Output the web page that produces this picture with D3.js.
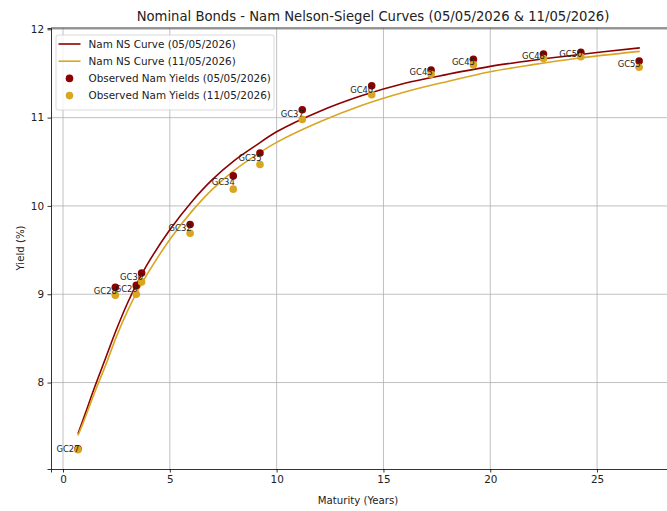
<!DOCTYPE html>
<html>
<head>
<meta charset="utf-8">
<script src="https://cdn.jsdelivr.net/npm/d3@7"></script>
<style>
  body { margin: 0; background: #fff; }
  text { font-family: "DejaVu Sans", sans-serif; fill: #222; }
</style>
</head>
<body>
<div id="chart1"></div>
<script>
// observed bond yields
var bonds = ["GC27","GC28","GC29","GC30","GC32","GC34","GC35","GC37","GC40","GC43","GC45","GC48","GC50","GC53"];
var maturities = [0.70,2.45,3.43,3.68,5.95,7.97,9.22,11.20,14.45,17.23,19.21,22.49,24.24,26.97];
var yields0505 = [7.25,9.08,9.10,9.24,9.79,10.34,10.60,11.09,11.36,11.54,11.66,11.72,11.74,11.64];
var yields1105 = [7.24,8.99,9.00,9.14,9.69,10.19,10.47,10.98,11.26,11.49,11.60,11.67,11.69,11.57];

// fitted NS curves
var curveMaturities = [0.7,1,1.5,2,2.5,3,3.5,4,5,6,7,8,9,10,12,14,16,18,20,22,24,27];
var curve0505 = [7.42,7.62,7.96,8.28,8.60,8.89,9.14,9.36,9.73,10.04,10.30,10.51,10.68,10.84,11.07,11.25,11.39,11.49,11.58,11.65,11.71,11.79];
var curve1105 = [7.40,7.58,7.90,8.20,8.52,8.80,9.04,9.25,9.62,9.93,10.19,10.40,10.57,10.72,10.95,11.14,11.29,11.41,11.52,11.60,11.67,11.75];

var xTicks = [0,5,10,15,20,25];
var yTicks = [8,9,10,11,12];
var legendLabels = ["Nam NS Curve (05/05/2026)","Nam NS Curve (11/05/2026)","Observed Nam Yields (05/05/2026)","Observed Nam Yields (11/05/2026)"];

var red = "#8b0000", gold = "#daa520";

var w = 667, h = 511;
var margin = {top: 28, right: -1, bottom: 42, left: 51};
var width = w - margin.left - margin.right;
var height = h - margin.top - margin.bottom;

var svg = d3.select("#chart1").append("svg")
  .attr("width", w)
  .attr("height", h);
svg.append("rect").attr("width", w).attr("height", h).attr("fill", "#fff");

var g = svg.append("g")
  .attr("transform", "translate(" + margin.left + "," + margin.top + ")");

var x = d3.scaleLinear().domain([-0.562, 28.32]).range([0, width]);
var y = d3.scaleLinear().domain([7.021, 12.015]).range([height, 0]);

// grid
g.append("g").selectAll("line").data(xTicks).enter().append("line")
  .attr("x1", d => x(d)).attr("x2", d => x(d))
  .attr("y1", 0).attr("y2", height)
  .attr("stroke", "#b0b0b0").attr("stroke-width", 0.8);
g.append("g").selectAll("line").data(yTicks).enter().append("line")
  .attr("x1", 0).attr("x2", width)
  .attr("y1", d => y(d)).attr("y2", d => y(d))
  .attr("stroke", "#b0b0b0").attr("stroke-width", 0.8);

// axes
var xAxis = g.append("g")
  .attr("transform", "translate(0," + height + ")")
  .call(d3.axisBottom(x).tickValues(xTicks).tickFormat(d3.format("d")).tickSizeOuter(0).tickSize(3.5).tickPadding(3.5));
var yAxis = g.append("g")
  .call(d3.axisLeft(y).tickValues(yTicks).tickFormat(d3.format("d")).tickSizeOuter(0).tickSize(3.5).tickPadding(3.5));
[xAxis, yAxis].forEach(function(a){
  a.select(".domain").attr("stroke", "#000").attr("stroke-width", 0.8);
  a.selectAll(".tick line").attr("stroke", "#000").attr("stroke-width", 0.8);
  a.selectAll(".tick text").attr("font-size", "10.4px").attr("font-family", "DejaVu Sans").attr("fill", "#222");
});
g.append("line").attr("x1", 0).attr("x2", width).attr("y1", 0).attr("y2", 0)
  .attr("stroke", "#000").attr("stroke-width", 0.8);

// curves
var line = d3.line()
  .x((d, i) => x(curveMaturities[i]))
  .y(d => y(d))
  .curve(d3.curveCatmullRom);
g.append("path").attr("d", line(curve0505))
  .attr("fill", "none").attr("stroke", red).attr("stroke-width", 1.6);
g.append("path").attr("d", line(curve1105))
  .attr("fill", "none").attr("stroke", gold).attr("stroke-width", 1.6);

// observed points
g.append("g").selectAll("circle").data(yields0505).enter().append("circle")
  .attr("cx", (d, i) => x(maturities[i]))
  .attr("cy", d => y(d))
  .attr("r", 3.8).attr("fill", red);
g.append("g").selectAll("circle").data(yields1105).enter().append("circle")
  .attr("cx", (d, i) => x(maturities[i]))
  .attr("cy", d => y(d))
  .attr("r", 3.8).attr("fill", gold);

// bond labels
g.append("g").selectAll("text").data(bonds).enter().append("text")
  .attr("x", (d, i) => x(maturities[i]) + 1.5)
  .attr("y", (d, i) => y((yields0505[i] + yields1105[i]) / 2))
  .attr("dy", "0.3em")
  .attr("text-anchor", "end")
  .attr("font-size", "8.4px")
  .text(d => d);

// legend
var lg = g.append("g").attr("transform", "translate(5,7)");
lg.append("rect").attr("width", 218).attr("height", 75).attr("rx", 2)
  .attr("fill", "#fff").attr("fill-opacity", 0.8)
  .attr("stroke", "#d0d0d0").attr("stroke-width", 0.8);
var colors = [red, gold, red, gold];
legendLabels.forEach(function(t, i){
  var yy = 9 + i * 17.2;
  if (i < 2) {
    lg.append("line").attr("x1", 2.5).attr("x2", 24.5).attr("y1", yy).attr("y2", yy)
      .attr("stroke", colors[i]).attr("stroke-width", 1.6);
  } else {
    lg.append("circle").attr("cx", 13.5).attr("cy", yy).attr("r", 3.8).attr("fill", colors[i]);
  }
  lg.append("text").attr("x", 32.5).attr("y", yy).attr("dy", "0.35em")
    .attr("font-size", "10.4px").text(t);
});

// titles
svg.append("text").attr("x", 373).attr("y", 16).attr("dy", "0.35em")
  .attr("text-anchor", "middle").attr("font-size", "13.2px").attr("fill", "#000")
  .text("Nominal Bonds - Nam Nelson-Siegel Curves (05/05/2026 & 11/05/2026)");
svg.append("text").attr("x", 358).attr("y", 500).attr("dy", "0.35em")
  .attr("text-anchor", "middle").attr("font-size", "10.2px")
  .text("Maturity (Years)");
svg.append("text").attr("transform", "translate(20,248) rotate(-90)")
  .attr("dy", "0.35em").attr("text-anchor", "middle").attr("font-size", "10.2px")
  .text("Yield (%)");
</script>
</body>
</html>
